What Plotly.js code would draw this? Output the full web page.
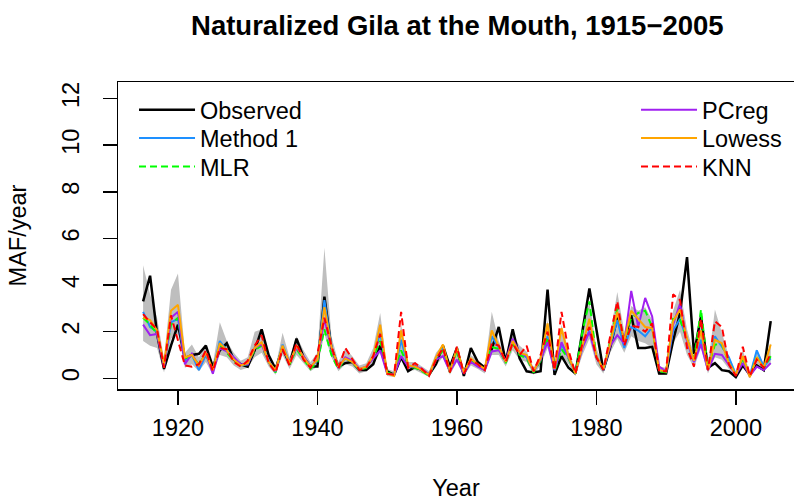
<!DOCTYPE html>
<html>
<head>
<meta charset="utf-8">
<script src="https://cdn.plot.ly/plotly-3.0.1.min.js"></script>
<style>html,body{margin:0;padding:0;background:#fff;}#chart{width:794px;height:502px;}</style>
</head>
<body>
<div id="chart"></div>
<script>
var years = [];
for (var y = 1915; y <= 2005; y++) years.push(y);

var observed = [3.3,4.4,1.9,0.4,1.4,2.3,0.85,1.0,1.05,1.4,0.5,1.2,1.5,0.8,0.6,0.5,1.2,2.1,1.0,0.4,1.3,0.6,1.7,0.9,0.5,0.5,3.5,1.3,0.5,0.65,0.7,0.35,0.35,0.6,1.4,0.3,0.15,0.9,0.3,0.5,0.35,0.15,0.6,1.4,0.5,1.3,0.1,1.3,0.7,0.45,1.25,2.2,0.7,2.1,0.85,0.3,0.25,0.3,3.8,0.15,0.95,0.45,0.2,2.1,3.85,2.1,0.35,1.35,2.6,1.6,2.7,1.3,1.3,1.35,0.2,0.2,1.6,2.8,5.2,1.05,2.65,0.45,0.65,0.35,0.3,0.05,0.55,0.15,0.55,0.35,2.45];
var method1 = [2.85,2.2,2.0,0.55,2.4,2.55,0.75,1.0,0.35,1.0,0.35,1.6,1.2,0.85,0.55,0.6,1.3,1.5,0.75,0.3,1.45,0.65,1.35,0.9,0.5,0.75,3.35,1.35,0.45,0.85,0.7,0.35,0.5,0.9,1.95,0.2,0.15,1.65,0.5,0.5,0.35,0.15,0.85,1.3,0.3,1.25,0.2,0.8,0.55,0.35,1.8,1.3,0.7,1.6,1.05,0.9,0.3,0.8,1.8,0.35,1.45,0.9,0.2,1.35,2.05,0.95,0.35,1.45,2.5,1.3,2.2,2.05,1.8,2.2,0.35,0.3,2.05,2.55,1.65,0.7,1.65,0.35,1.8,1.35,0.9,0.15,0.85,0.1,1.2,0.5,0.85];
var mlr = [2.6,2.3,1.9,0.6,2.3,2.6,0.85,0.95,0.6,1.05,0.3,1.4,1.1,0.75,0.5,0.65,1.2,1.4,0.7,0.25,1.35,0.6,1.25,0.85,0.4,0.7,2.1,1.0,0.4,0.85,0.7,0.35,0.45,0.9,1.6,0.25,0.15,1.2,0.5,0.45,0.3,0.1,0.8,1.2,0.25,1.2,0.2,0.75,0.55,0.35,1.35,1.25,0.65,1.5,1.0,0.85,0.25,0.75,1.75,0.3,1.25,0.85,0.2,2.0,3.3,0.9,0.35,1.6,3.0,1.6,2.6,2.8,2.9,2.2,0.3,0.25,2.55,2.5,1.7,0.75,2.95,0.4,1.45,1.45,0.65,0.15,0.85,0.1,0.9,0.45,0.95];
var pcreg = [2.3,1.85,1.9,0.5,2.6,2.85,0.6,1.05,0.5,1.1,0.2,1.3,1.15,0.9,0.6,0.6,1.3,1.45,0.7,0.3,1.3,0.7,1.3,0.95,0.5,0.8,2.55,1.3,0.45,0.9,0.75,0.4,0.5,0.85,1.2,0.2,0.15,0.95,0.5,0.5,0.4,0.15,0.8,0.95,0.3,0.8,0.2,0.7,0.5,0.35,1.15,1.2,0.75,1.7,1.1,0.95,0.3,0.8,1.55,0.35,1.55,0.9,0.25,1.3,2.0,0.9,0.4,1.4,1.85,1.5,3.75,2.2,3.45,2.65,0.5,0.3,2.3,3.2,1.6,0.7,1.45,0.35,1.05,1.0,0.6,0.15,0.65,0.1,0.5,0.35,0.65];
var lowess = [2.6,2.5,2.05,0.6,2.9,3.15,0.9,1.0,0.55,1.1,0.35,1.5,1.2,0.8,0.55,0.65,1.3,1.55,0.7,0.35,1.4,0.65,1.4,0.9,0.5,0.8,3.05,1.35,0.5,0.85,0.7,0.4,0.5,0.95,2.3,0.2,0.1,2.05,0.55,0.5,0.35,0.15,0.9,1.45,0.3,1.3,0.25,0.85,0.6,0.4,2.05,1.35,0.7,1.6,1.1,1.0,0.3,0.85,2.35,0.4,2.15,0.95,0.2,1.4,2.55,0.95,0.4,1.5,2.85,1.6,2.9,2.55,2.2,2.15,0.35,0.3,2.45,2.95,1.7,0.75,2.05,0.35,1.65,1.5,0.65,0.15,0.95,0.05,0.9,0.45,1.45];
var knn = [2.75,2.4,2.1,0.45,2.7,1.6,0.55,0.5,0.6,1.2,0.3,1.3,1.25,0.7,0.5,0.75,1.4,1.85,0.65,0.25,1.25,0.55,1.5,0.8,0.45,1.05,2.6,1.4,0.4,1.3,0.8,0.35,0.45,0.95,1.9,0.2,0.15,2.85,0.45,0.65,0.4,0.1,0.8,1.3,0.25,1.35,0.2,0.8,0.6,0.35,1.5,1.4,0.7,1.5,1.0,1.4,0.3,1.0,2.0,0.35,2.85,1.2,0.2,1.5,2.2,0.9,0.35,1.8,3.3,1.4,2.25,2.2,2.0,2.35,0.3,0.3,3.6,3.35,1.3,0.5,2.55,0.35,2.45,2.2,0.6,0.1,1.35,0.1,0.8,0.45,1.05];
var bandLower = [1.6,1.4,1.3,0.25,1.7,1.9,0.45,0.6,0.3,0.7,0.15,1.0,0.9,0.55,0.35,0.45,0.9,1.1,0.5,0.15,1.0,0.4,1.0,0.65,0.3,0.5,1.9,0.9,0.3,0.6,0.5,0.2,0.3,0.6,1.1,0.1,0.05,0.8,0.3,0.35,0.2,0.05,0.55,0.9,0.15,0.7,0.1,0.55,0.4,0.2,1.0,1.0,0.5,1.2,0.8,0.7,0.15,0.55,1.3,0.2,1.0,0.6,0.1,1.0,1.7,0.6,0.2,1.1,1.7,1.1,1.8,1.6,1.5,1.3,0.15,0.15,1.5,2.0,1.0,0.45,1.3,0.2,0.9,0.8,0.4,0.05,0.55,0.0,0.5,0.3,0.6];
var bandUpper = [4.85,3.6,2.6,0.85,3.8,4.5,1.1,1.45,0.9,1.45,0.6,2.4,1.6,1.1,0.75,0.9,2.0,2.1,1.0,0.5,1.95,0.9,1.8,1.2,0.7,1.1,5.6,1.8,0.7,1.3,0.95,0.55,0.65,1.3,2.8,0.4,0.3,2.3,0.7,0.7,0.5,0.3,1.1,1.45,0.45,1.4,0.35,1.0,0.75,0.5,2.85,1.6,0.9,1.85,1.4,1.15,0.45,1.0,2.5,0.5,2.3,1.2,0.35,2.1,3.3,1.3,0.55,1.9,3.7,2.0,3.1,2.9,3.05,2.5,0.5,0.45,2.9,3.8,2.1,1.0,2.9,0.55,2.95,1.9,0.95,0.3,1.2,0.25,1.25,0.6,1.5];

var seriesNames = ['Observed','Method 1','MLR','PCreg','Lowess','KNN'];
var seriesColors = ['#000000','#1E90FF','#00FF00','#A020F0','#FFA500','#FF0000'];
var seriesDash = ['solid','solid','7px,4px','solid','solid','7px,4px'];
var seriesWidth = [2.5,2,2,2,2,2];
var seriesData = [observed, method1, mlr, pcreg, lowess, knn];

var font = 'Liberation Sans, Arial, sans-serif';
var FS = 23.5;
var traces = [
  {x: years, y: bandLower, type: 'scatter', mode: 'lines', line: {width: 0, color: '#BEBEBE'}, showlegend: false, hoverinfo: 'skip'},
  {x: years, y: bandUpper, type: 'scatter', mode: 'lines', line: {width: 0, color: '#BEBEBE'}, fill: 'tonexty', fillcolor: '#BEBEBE', showlegend: false, hoverinfo: 'skip'}
];
var legendKeys = ['legend','legend2','legend3','legend4','legend5','legend6'];
for (var i = 0; i < seriesNames.length; i++) {
  traces.push({x: years, y: seriesData[i], type: 'scatter', mode: 'lines', name: seriesNames[i],
    line: {color: seriesColors[i], width: seriesWidth[i], dash: seriesDash[i]}, legend: legendKeys[i]});
}

var layout = {
  width: 794, height: 502,
  margin: {l: 118, r: 0, t: 82, b: 113},
  paper_bgcolor: '#fff', plot_bgcolor: '#fff',
  font: {family: font, size: FS, color: '#000'},
  title: {text: 'Naturalized Gila at the Mouth, 1915\u22122005', font: {family: font, size: 27.5, color: '#000', weight: 'bold'},
    x: 0.576, xref: 'container', xanchor: 'center', y: 0.95, yref: 'container', yanchor: 'middle'},
  xaxis: {range: [1911.4, 2008.34], tickvals: [1920,1940,1960,1980,2000], ticks: 'outside', ticklen: 14, tickwidth: 1.5, tickcolor: '#000',
    showline: true, mirror: true, linecolor: '#000', linewidth: 1.5, showgrid: false, zeroline: false,
    ticklabelstandoff: 3, tickfont: {family: font, size: FS},
    title: {text: 'Year', font: {family: font, size: FS}, standoff: 40}, automargin: false},
  yaxis: {range: [-0.46, 12.71], tickvals: [0,2,4,6,8,10,12], ticks: 'outside', ticklen: 14, tickwidth: 1.5, tickcolor: '#000',
    showline: true, mirror: false, linecolor: '#000', linewidth: 1.5, showgrid: false, zeroline: false,
    tickangle: -90, ticklabelstandoff: 14, tickfont: {family: font, size: FS},
    title: {text: 'MAF/year', font: {family: font, size: FS}, standoff: 25}, automargin: false},
  showlegend: true
};
var rowY = [0.9088, 0.8166, 0.7241];
for (var k = 0; k < 6; k++) {
  layout[legendKeys[k]] = {bgcolor: 'rgba(0,0,0,0)', borderwidth: 0, font: {family: font, size: FS, color: '#000'},
    xanchor: 'left', yanchor: 'middle', itemwidth: 56, traceorder: 'normal',
    x: k < 3 ? 0.0237 : 0.7663, y: rowY[k % 3]};
}

Plotly.newPlot('chart', traces, layout, {staticPlot: true, displayModeBar: false});
</script>
</body>
</html>
